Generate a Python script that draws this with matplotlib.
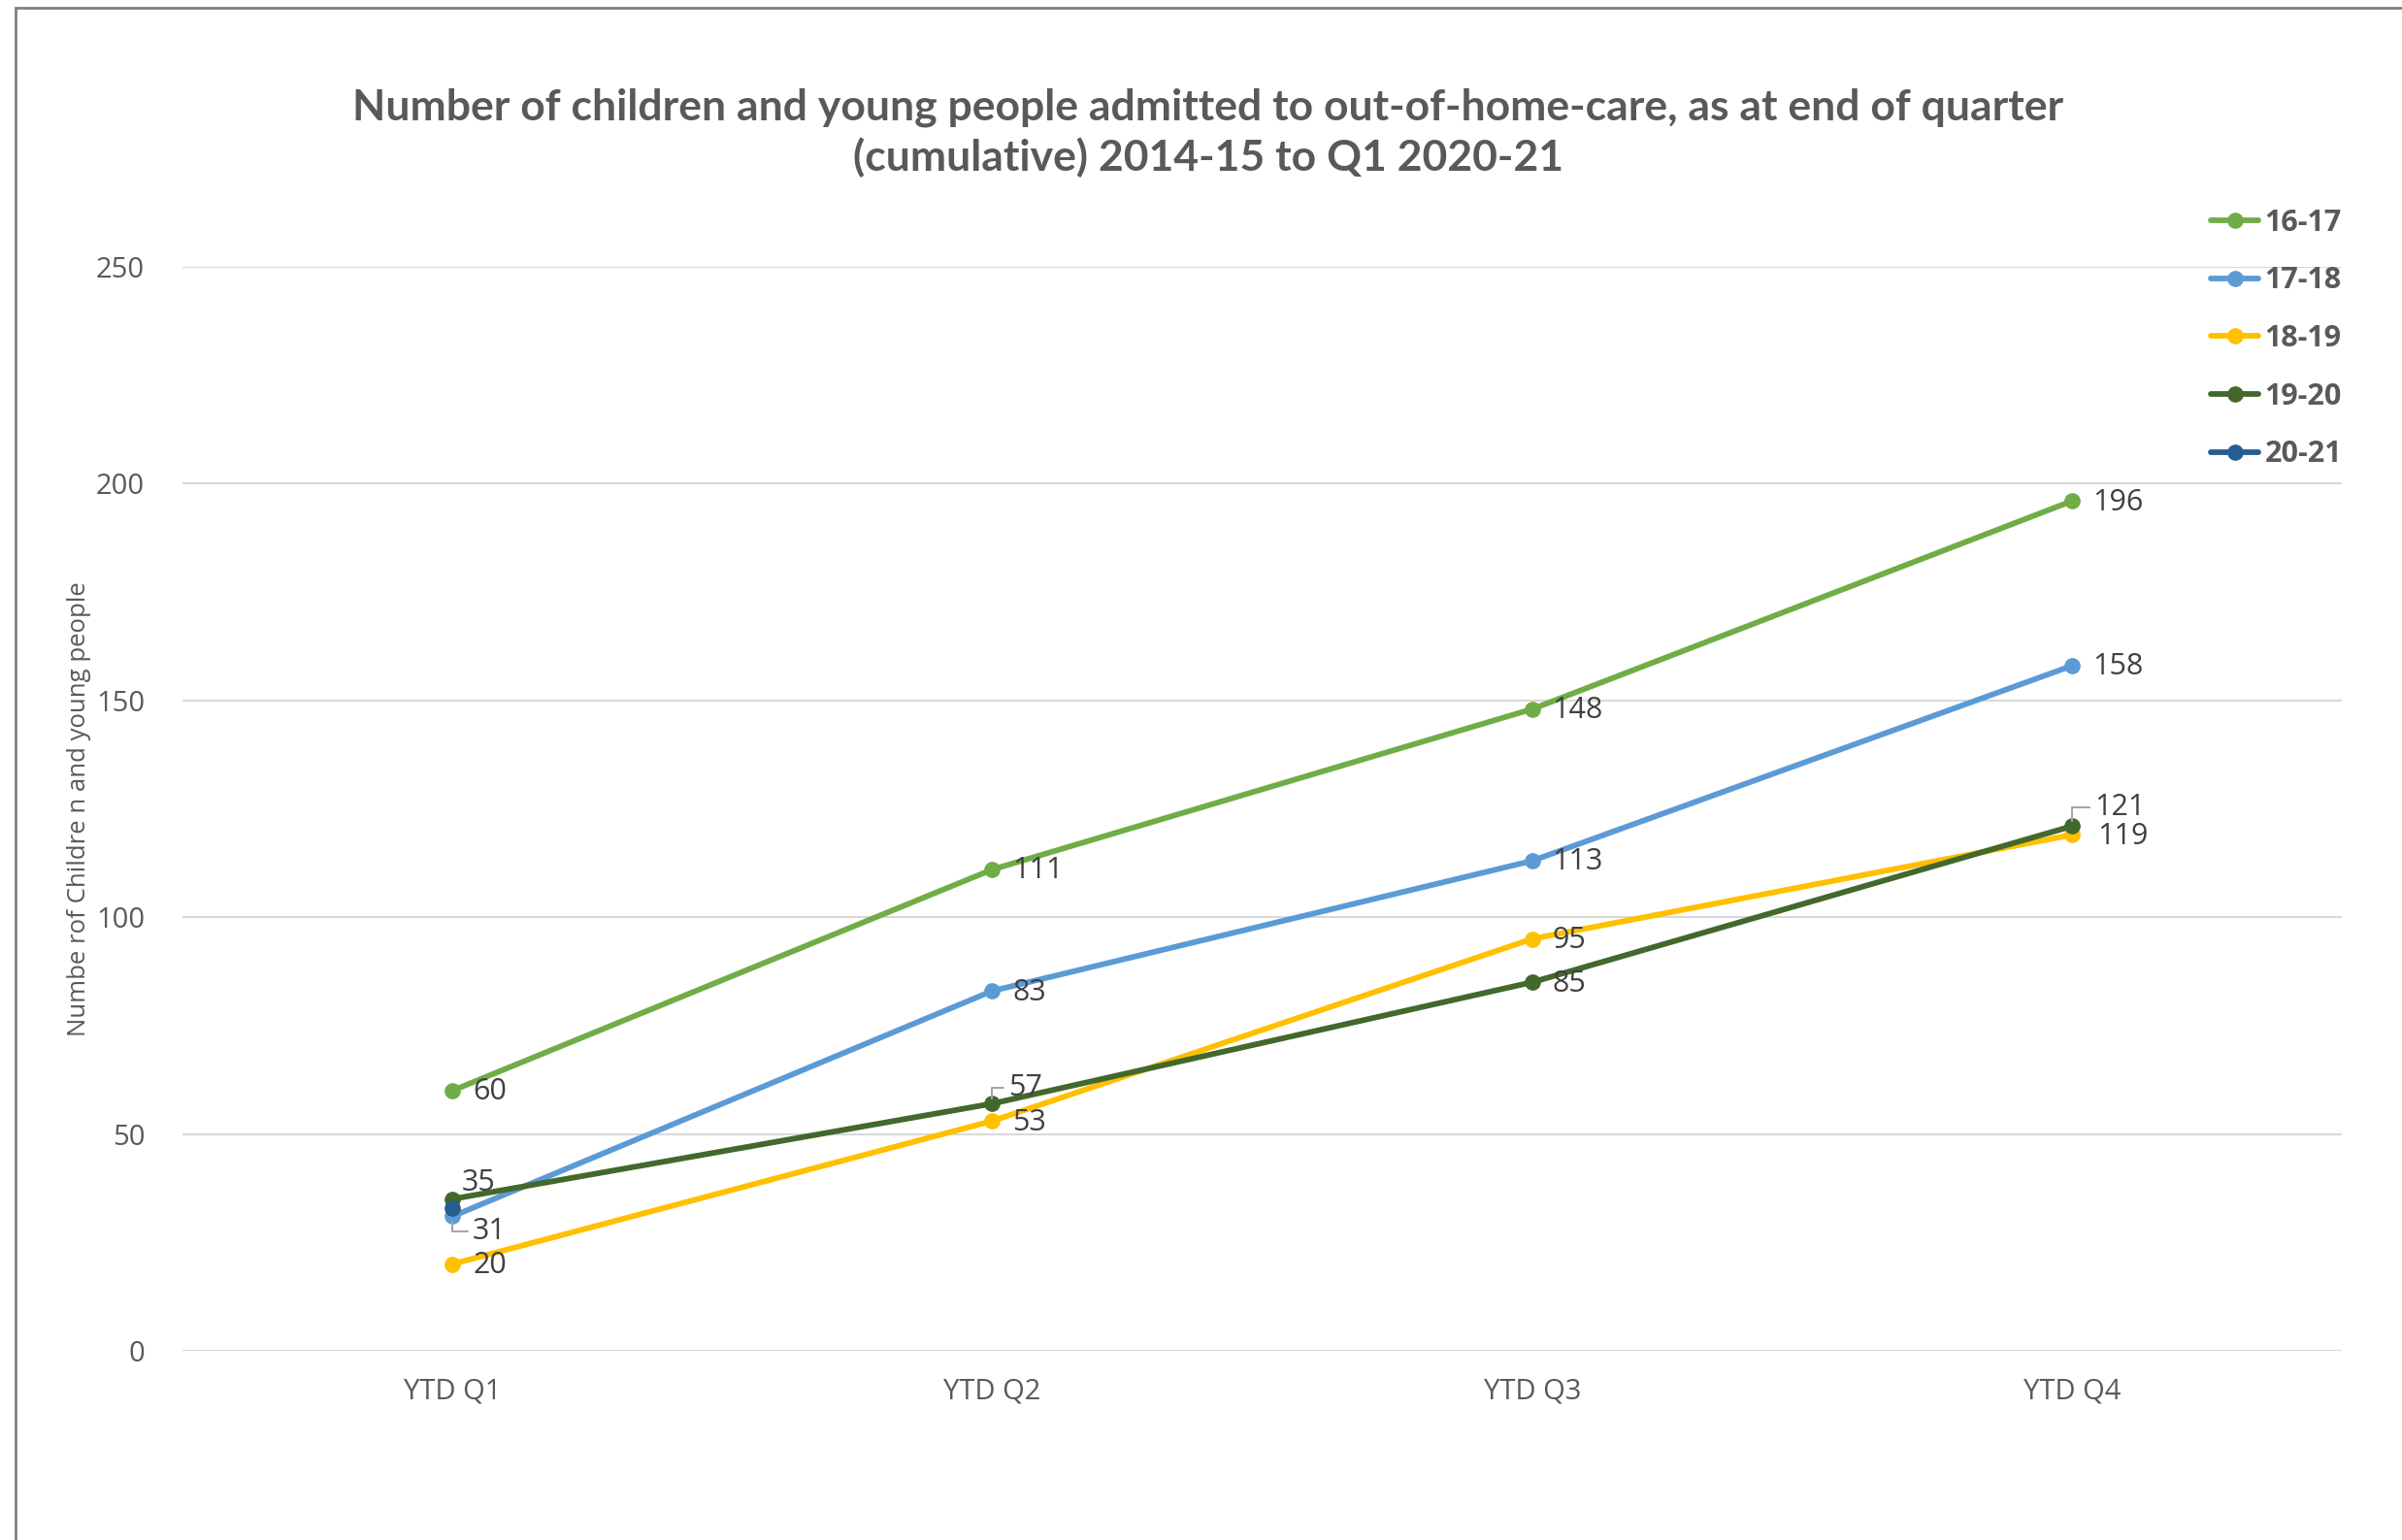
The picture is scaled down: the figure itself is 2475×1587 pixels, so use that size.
import matplotlib.pyplot as plt
from matplotlib.patches import Rectangle

plt.rcParams['font.family'] = ['Open Sans', 'DejaVu Sans']

# Data
quarters = ['YTD Q1', 'YTD Q2', 'YTD Q3', 'YTD Q4']
years = ['16-17', '17-18', '18-19', '19-20', '20-21']
v_16_17 = [60, 111, 148, 196]
v_17_18 = [31, 83, 113, 158]
v_18_19 = [20, 53, 95, 119]
v_19_20 = [35, 57, 85, 121]
v_20_21 = [33]

series = [v_16_17, v_17_18, v_18_19, v_19_20, v_20_21]
colors = ['#70AD47', '#5B9BD5', '#FFC000', '#43682B', '#255E91']

# label offsets (points) per series/point; None = no label, 'lead' = leader line
offsets = [
    [(15, -1), (15, -1), (15, -1), (15, -1)],
    [(15, -11, 'lead'), (15, -1), (15, -1), (15, -1)],
    [(15, -1), (15, -1), (15, -1), (19, -1)],
    [(7, 12), (12, 12, 'lead'), (15, -1), (17, 14, 'lead')],
    [None],
]

fig = plt.figure(figsize=(24.75, 15.87), dpi=100)
ax = fig.add_axes([0.076, 0.1229, 0.899, 0.7038])

for vals, col, name in zip(series, colors, years):
    ax.plot(range(len(vals)), vals, color=col, lw=4.2, marker='o', ms=11,
            solid_capstyle='round', label=name, zorder=3)

for vals, col, offs in zip(series, colors, offsets):
    for i, (v, off) in enumerate(zip(vals, offs)):
        if off is None:
            continue
        kw = {}
        if len(off) == 3:
            kw['arrowprops'] = dict(arrowstyle='-', color='#A6A6A6', lw=1.5,
                                    connectionstyle='angle,angleA=0,angleB=90,rad=0',
                                    relpos=(0, 0.5), shrinkA=2, shrinkB=4)
        ax.annotate(str(v), (i, v), xytext=off[:2], textcoords='offset points',
                    ha='left', va='center', fontsize=22, color='#404040', **kw)

ax.set_xlim(-0.5, 3.5)
ax.set_ylim(0, 250)
ax.set_yticks(range(0, 251, 50))
ax.set_xticks(range(4))
ax.set_xticklabels(quarters)
ax.grid(axis='y', color='#D9D9D9', lw=1.5)
ax.set_axisbelow(True)
for s in ax.spines.values():
    s.set_visible(False)
ax.tick_params(length=0, labelsize=21, labelcolor='#595959')
ax.tick_params(axis='y', pad=28)
ax.tick_params(axis='x', pad=20)
ax.set_ylabel('Numbe rof Childre n and young people', fontsize=18.5,
              color='#595959', labelpad=4)

fig.text(0.503, 0.914,
         'Number of children and young people admitted to out-of-home-care, as at end of quarter\n(cumulative) 2014-15 to Q1 2020-21',
         ha='center', va='center', fontsize=32, fontweight='bold',
         color='#595959', family=['Lato', 'DejaVu Sans'], linespacing=1.3)

leg = ax.legend(loc='upper left', bbox_to_anchor=(0.934, 1.065), frameon=False,
                fontsize=22, labelspacing=0.97, handlelength=1.6, handletextpad=0.2,
                borderaxespad=0)
for t in leg.get_texts():
    t.set_color('#595959')
    t.set_fontweight('bold')

fig.patches.append(Rectangle((16 / 2475, -0.05), 1.2, 1.05 - 8 / 1587,
                             transform=fig.transFigure, fill=False,
                             edgecolor='#808080', lw=2))

fig.savefig('out.png', dpi=100)
